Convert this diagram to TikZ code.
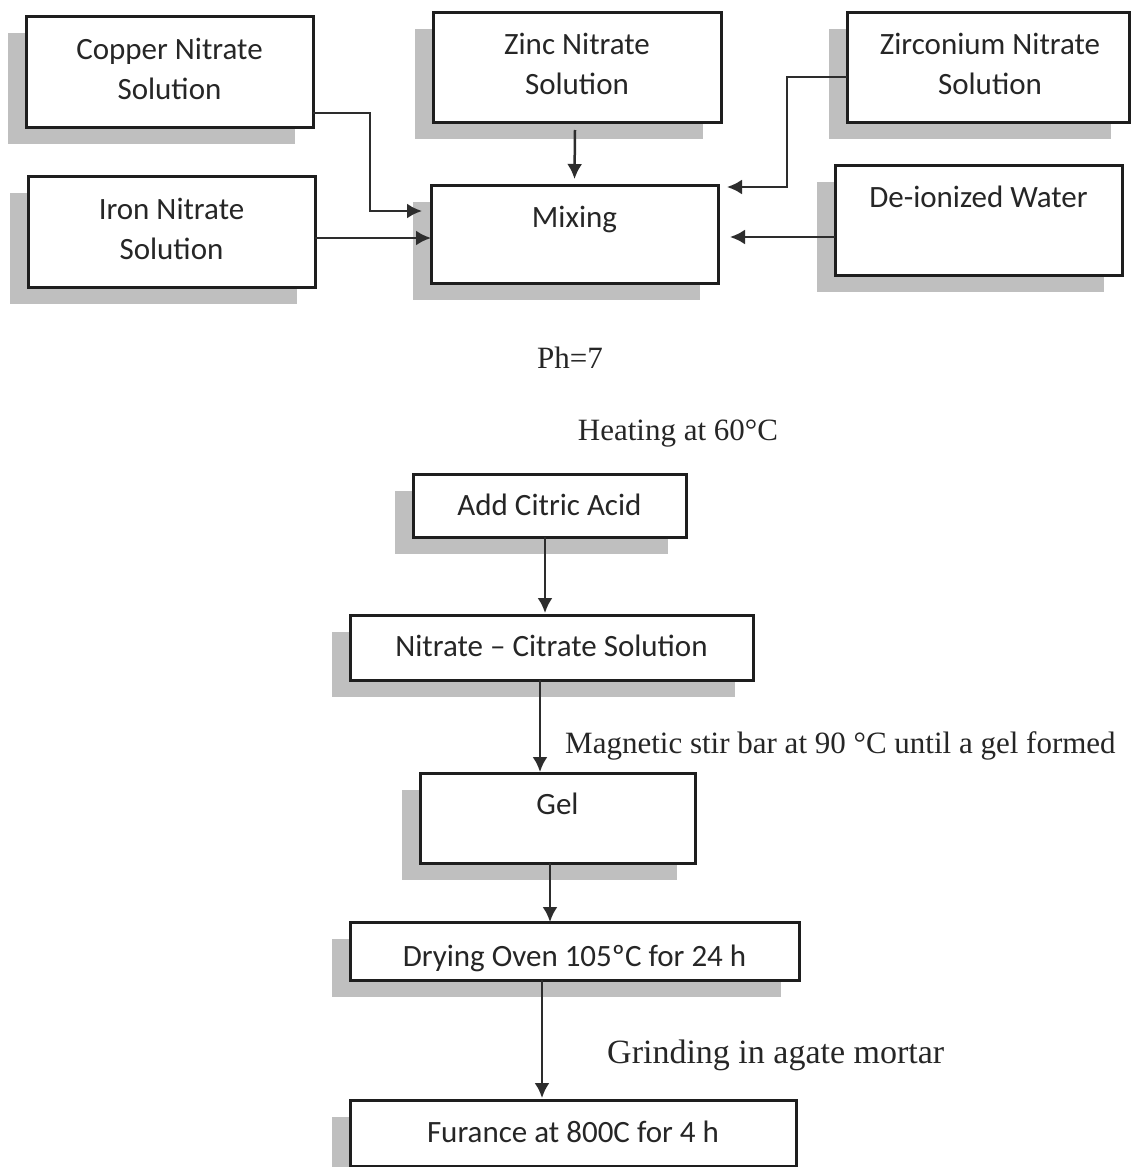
\documentclass[tikz,border=0pt]{standalone}
\usepackage{fontspec}
\setmainfont{Liberation Serif}
\newfontfamily\boxfont{Carlito}
\usetikzlibrary{arrows.meta}
\definecolor{shd}{RGB}{191,191,191}
\definecolor{edgec}{RGB}{30,30,30}
\definecolor{connc}{RGB}{45,45,45}
\newcommand\flowbox[5]{%
  \fill[shd] (#2-18,#3+17) rectangle (#4-18,#5+17);
  \node[bx, minimum width=#4-#2, minimum height=#5-#3] (#1) at (#2,#3) {};}
\begin{document}
\begin{tikzpicture}[x=1pt,y=-1pt,
  bx/.style={draw=edgec, line width=3pt, fill=white, anchor=north west, inner sep=0pt, outer sep=0pt},
  lbl/.style={font=\boxfont\fontsize{31}{40}\selectfont, align=center, inner sep=0pt, anchor=base, text=black!85},
  note/.style={font=\fontsize{31}{36}\selectfont, inner sep=0pt, text=black!85},
  arr/.style={draw=connc, line width=2.5pt, -{Latex[length=15pt,width=15pt]}}]
\useasboundingbox (0,0) rectangle (1130,1167);
\fill[white] (0,0) rectangle (1130,1167);

% top row
\flowbox{cu}{26}{16}{313}{127}
\flowbox{ir}{28}{176}{315}{287}
\flowbox{zn}{433}{12}{721}{122}
\flowbox{mx}{431}{185}{718}{283}
\flowbox{zr}{847}{12}{1129}{122}
\flowbox{dw}{835}{165}{1122}{275}

\node[lbl] (cut) at ([yshift=-83pt]cu.north) {Copper Nitrate\\Solution};
\node[lbl] (irt) at ([yshift=-83pt]ir.north) {Iron Nitrate\\Solution};
\node[lbl] (znt) at ([yshift=-82pt]zn.north) {Zinc Nitrate\\Solution};
\node[lbl] (zrt) at ([xshift=2pt,yshift=-82pt]zr.north) {Zirconium Nitrate\\Solution};
\node[lbl] (dwt) at ([yshift=-42pt]dw.north) {De-ionized Water};
\node[lbl] (mxt) at ([yshift=-42pt]mx.north) {Mixing};

\draw[arr] ([yshift=14pt]cu.south east) -- ++(57,0) |- ([xshift=-9pt,yshift=23pt]mx.west);
\draw[arr] ([yshift=-6.5pt]ir.east) -- ([yshift=-4pt]mx.west);
\draw[arr] ([xshift=-2pt,yshift=-8pt]zn.south) -- ([yshift=6pt]mx.north);
\draw[arr] ([yshift=-10pt]zr.west) -- ++(-60,0) |- ([xshift=9pt,yshift=47pt]mx.east);
\draw[arr] ([yshift=-17pt]dw.west) -- ([xshift=12pt,yshift=-3pt]mx.east);

% notes
\node[note] (ph) at (570,358) {Ph=7};
\node[note] (heat) at (678,434) {Heating at 60°C};

% lower flow
\flowbox{ac}{413}{474}{686}{537}
\flowbox{nc}{350}{615}{753}{680}
\flowbox{gl}{420}{773}{695}{863}
\flowbox{dr}{350}{922}{799}{980}
\flowbox{fu}{350}{1100}{796}{1166}

\node[lbl] (act) at ([yshift=-41pt]ac.north) {Add Citric Acid};
\node[lbl] (nct) at ([yshift=-41pt]nc.north) {Nitrate – Citrate Solution};
\node[lbl] (glt) at ([yshift=-41pt]gl.north) {Gel};
\node[lbl] (drt) at ([yshift=-44pt]dr.north) {Drying Oven 105ºC for 24 h};
\node[lbl] (fut) at ([yshift=-42pt]fu.north) {Furance at 800C for 4 h};

\draw[arr] ([xshift=-4.5pt]ac.south) -- ([xshift=-4.5pt,yshift=2pt]ac.south |- nc.north);
\draw[arr] ([xshift=-11.5pt]nc.south) -- ([xshift=-11.5pt,yshift=1pt]nc.south |- gl.north);
\draw[arr] ([xshift=-7.5pt]gl.south) -- ([xshift=-7.5pt]gl.south |- dr.north);
\draw[arr] ([xshift=-32.5pt]dr.south) -- ([xshift=-32.5pt,yshift=2pt]dr.south |- fu.north);

\node[note, anchor=west] (stir) at (565,746) {Magnetic stir bar at 90 °C until a gel formed};
\node[note, anchor=west, font=\fontsize{34}{38}\selectfont] (grind) at (607,1055) {Grinding in agate mortar};
\end{tikzpicture}
\end{document}
